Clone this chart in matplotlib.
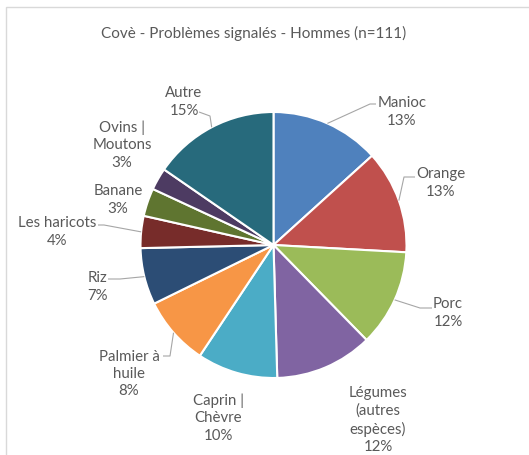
import matplotlib
matplotlib.use("Agg")
import matplotlib.pyplot as plt
from matplotlib.patches import Rectangle
import numpy as np

categories = ["Manioc", "Orange", "Porc", "Légumes\n(autres\nespèces)", "Caprin |\nChèvre",
              "Palmier à\nhuile", "Riz", "Les haricots", "Banane", "Ovins |\nMoutons", "Autre"]
values = [13.3, 12.6, 11.8, 11.9, 9.8, 8.4, 6.9, 3.9, 3.4, 2.7, 15.4]
colors = ["#4F81BD", "#C0504D", "#9BBB59", "#8064A2", "#4BACC6", "#F79646",
          "#2C4D75", "#772C2A", "#5F7530", "#4D3B62", "#276A7C"]
title = "Covè - Problèmes signalés - Hommes (n=111)"

W, H = 529, 456
fig = plt.figure(figsize=(W / 100, H / 100), dpi=100)
ax = fig.add_axes([0, 0, 1, 1])
ax.set_xlim(0, W)
ax.set_ylim(0, H)
ax.axis("off")

plt.rcParams["font.family"] = ["Lato", "DejaVu Sans"]
txt_color = "#595959"

# frame
ax.add_patch(Rectangle((6, -10), 700, H - 8 + 10, fill=False, edgecolor="#D9D9D9", lw=1.0))

cx, cy, r = 273.5, H - 246, 133
ax.pie(values, colors=colors, startangle=90, counterclock=False, center=(cx, cy), radius=r,
       wedgeprops=dict(edgecolor="white", linewidth=1.5), frame=True)
ax.set_xlim(0, W)
ax.set_ylim(0, H)
ax.set_aspect("equal")
ax.axis("off")

# label layout (pixel positions, y from top)
label_pos = [(402, 112), (441, 183), (448, 313), (378, 420), (218, 418),
             (129, 374), (97, 287), (57, 232), (118, 200), (122, 145), (184, 102)]
# leader elbows (pixel, y from top)
leaders = [[(370, 105), (376, 105)],
           [(404, 178), (415, 178)],
           [(420, 309), (432, 309)],
           None, None,
           [(170, 357), (163, 357)],
           [(120, 280), (108, 280)],
           [(104, 226), (98, 226)],
           None, None,
           [(210, 117), (199, 113)]]

total = sum(values)
cum = 0
for cat, v, pos, ld in zip(categories, values, label_pos, leaders):
    mid = (cum + v / 2) / total * 360
    cum += v
    ang = np.deg2rad(mid)
    ex, ey = cx + r * np.sin(ang), cy + r * np.cos(ang)
    if ld is not None:
        xs = [ex] + [p[0] for p in ld]
        ys = [ey] + [H - p[1] for p in ld]
        ax.plot(xs, ys, color="#A6A6A6", lw=0.8, solid_capstyle="butt")
    ax.text(pos[0], H - pos[1], f"{cat}\n{round(v)}%", ha="center", va="center",
            fontsize=10.8, color=txt_color, linespacing=1.3, family=["Lato", "DejaVu Sans"])

ax.text(254, H - 33, title, ha="center", va="center", fontsize=11, color=txt_color,
        family=["Lato", "DejaVu Sans"])

fig.savefig("out.png", dpi=100)
